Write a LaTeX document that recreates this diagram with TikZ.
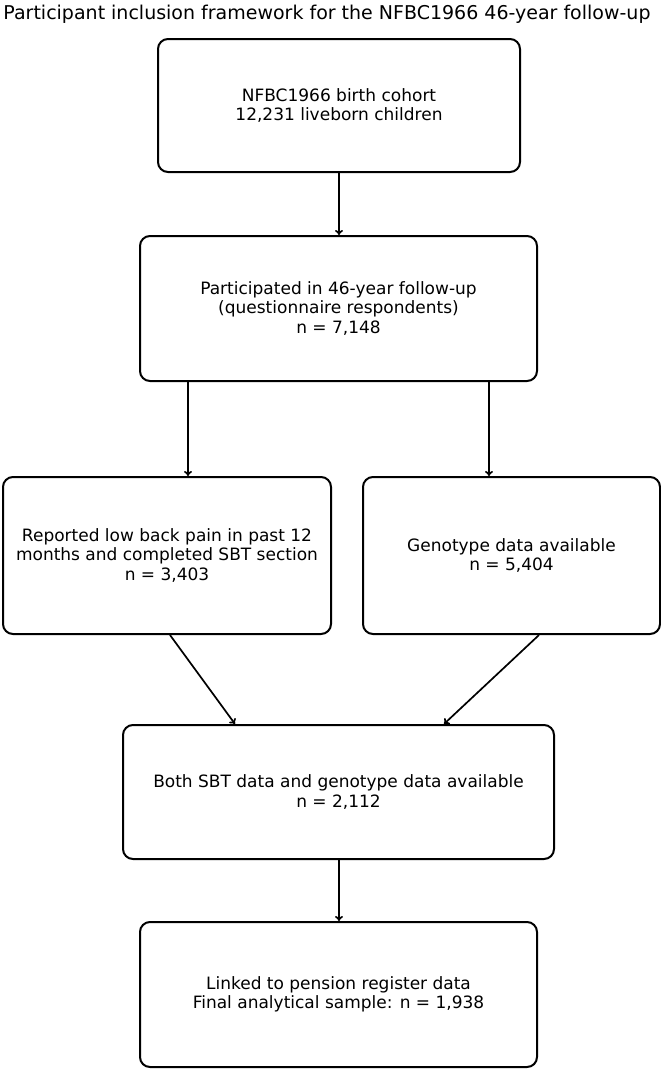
\documentclass[tikz,border=0pt]{standalone}
\usepackage{fontspec}
\setmainfont{DejaVu Sans}
\usetikzlibrary{arrows.meta}
\begin{document}
\begin{tikzpicture}[x=1pt,y=-1pt,
  box/.style={draw, line width=2pt, rounded corners=10pt, align=center,
    font=\fontsize{17}{19.5}\selectfont, inner sep=0pt},
  arr/.style={-{To[length=5pt,width=8pt]}, line width=1.7pt},
  ttl/.style={font=\fontsize{19}{22}\selectfont, inner sep=0pt}]
\useasboundingbox (0,0) rectangle (661,1071);
\node[ttl] (title) at (327,14) {Participant inclusion framework for the NFBC1966 46-year follow-up};
\node[box, minimum width=362pt, minimum height=133pt] (b1) at (339,105.5)
  {NFBC1966 birth cohort\\12,231 liveborn children};
\node[box, minimum width=397pt, minimum height=145pt] (b2) at (338.5,308.5)
  {Participated in 46-year follow-up\\(questionnaire respondents)\\n = 7,148};
\node[box, minimum width=328pt, minimum height=157pt] (b3) at (167,555.5)
  {Reported low back pain in past 12\\months and completed SBT section\\n = 3,403};
\node[box, minimum width=297pt, minimum height=157pt] (b4) at (511.5,555.5)
  {Genotype data available\\n = 5,404};
\node[box, minimum width=431pt, minimum height=134pt] (b5) at (338.5,792)
  {Both SBT data and genotype data available\\n = 2,112};
\node[box, minimum width=397pt, minimum height=145pt] (b6) at (338.5,994.5)
  {Linked to pension register data\\Final analytical sample: n = 1,938};
\coordinate (p3) at ([xshift=21pt]b3.north);
\coordinate (p4) at ([xshift=-22.5pt]b4.north);
\coordinate (p6) at ([xshift=0.5pt]b6.north);
\draw[arr] (b1.south) -- (b1.south |- b2.north);
\draw[arr] (b2.south -| p3) -- (p3);
\draw[arr] (b2.south -| p4) -- (p4);
\draw[arr] ([xshift=3pt]b3.south) -- ([xshift=-103.5pt]b5.north);
\draw[arr] ([xshift=27.5pt]b4.south) -- ([xshift=105.5pt]b5.north);
\draw[arr] (b5.south -| p6) -- (p6);
\end{tikzpicture}
\end{document}
